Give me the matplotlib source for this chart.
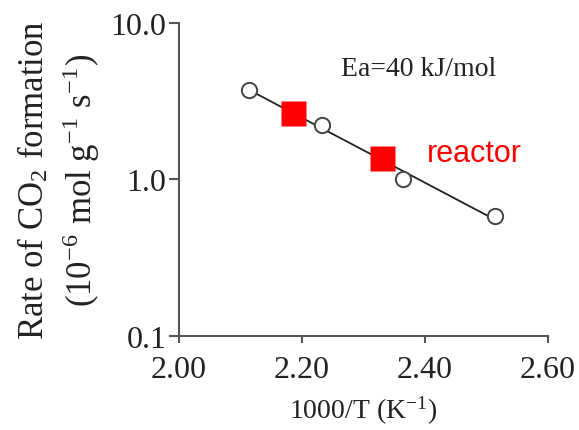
import numpy as np
import matplotlib
matplotlib.use('Agg')
import matplotlib.pyplot as plt
from matplotlib.ticker import FixedLocator, NullLocator

# measured points (open circles) and reactor points (red squares)
inv_t = [2.114, 2.232, 2.365, 2.514]
rate = [3.74, 2.24, 1.01, 0.584]
reactor_inv_t = [2.185, 2.331]
reactor_rate = [2.66, 1.36]

x_ticks = [2.00, 2.20, 2.40, 2.60]
y_ticks = [0.1, 1.0, 10.0]
y_tick_labels = ['0.1', '1.0', '10.0']

plt.rcParams['font.family'] = ['Liberation Serif', 'DejaVu Serif']
plt.rcParams['mathtext.fontset'] = 'stix'

fig = plt.figure(figsize=(5.79, 4.31), dpi=100)
ax = fig.add_axes([0.309, 0.218, 0.637, 0.727])

# Arrhenius fit through the circles
slope, icpt = np.polyfit(inv_t, np.log10(rate), 1)
xf = np.array([inv_t[0], inv_t[-1]])
ax.plot(xf, 10 ** (slope * xf + icpt), color='#222222', lw=1.3, zorder=2)

ax.plot(inv_t, rate, 'o', ms=11, mfc='white', mec='#444444', mew=1.4, zorder=3)
ax.plot(reactor_inv_t, reactor_rate, 's', ms=18, color='#ff0000', mec='none', zorder=4)

ax.set_yscale('log')
ax.set_xlim(2.0, 2.6)
ax.set_ylim(0.1, 10.0)
ax.yaxis.set_major_locator(FixedLocator(y_ticks))
ax.yaxis.set_minor_locator(NullLocator())
ax.set_yticklabels(y_tick_labels)
ax.set_xticks(x_ticks)
ax.set_xticklabels(['%.2f' % v for v in x_ticks])

for s in ['top', 'right']:
    ax.spines[s].set_visible(False)
for s in ['left', 'bottom']:
    ax.spines[s].set_color('#555555')
    ax.spines[s].set_linewidth(1.5)
ax.tick_params(axis='both', colors='#555555', labelcolor='#222222', labelsize=23, width=1.5)
ax.tick_params(axis='y', length=7, pad=2)
ax.tick_params(axis='x', length=5, pad=9)

ax.set_xlabel('1000/T (K$^{\\mathregular{-1}}$)', fontsize=20, color='#222222', labelpad=6)
ax.set_ylabel('Rate of CO$_{\\mathregular{2}}$ formation\n(10$^{\\mathregular{-6}}$ mol g$^{\\mathregular{-1}}$ s$^{\\mathregular{-1}}$)',
              fontsize=25, color='#222222', linespacing=1.3, labelpad=6)

ax.text(2.39, 5.1, 'Ea=40 kJ/mol', fontsize=20, color='#222222', ha='center', va='center')
ax.text(2.48, 1.48, 'reactor', fontsize=22, color='#ff0000', ha='center', va='center',
        family='Liberation Sans')

fig.savefig('out.png', dpi=100)
